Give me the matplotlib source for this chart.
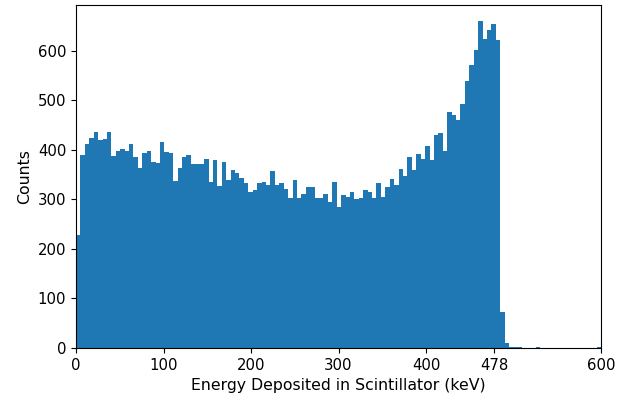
import numpy as np
import matplotlib
matplotlib.use("Agg")
import matplotlib.pyplot as plt

# counts per bin (120 bins from 0 to ~606 keV)
counts = [
    228, 389, 411, 423, 436, 420, 422, 436, 387, 398,
    401, 398, 411, 386, 364, 394, 398, 376, 374, 416,
    396, 393, 337, 364, 386, 389, 371, 371, 371, 382,
    335, 379, 326, 376, 339, 360, 354, 342, 333, 315,
    318, 332, 334, 328, 357, 328, 332, 320, 303, 338,
    303, 310, 325, 325, 303, 303, 310, 294, 334, 284,
    309, 305, 315, 300, 303, 318, 315, 303, 332, 305,
    325, 340, 328, 362, 347, 386, 360, 391, 382, 408,
    379, 430, 433, 398, 477, 470, 459, 493, 538, 570,
    602, 659, 624, 641, 654, 621, 73, 10, 3, 3,
    3, 0, 0, 0, 3, 0, 0, 0, 0, 0,
    0, 0, 0, 0, 0, 0, 0, 0, 2, 0,
]
e_max = 606.0
xtick_vals = [0, 100, 200, 300, 400, 478, 600]

edges = np.linspace(0, e_max, len(counts) + 1)
centers = 0.5 * (edges[:-1] + edges[1:])

fig = plt.figure(figsize=(6.17, 4.0), dpi=100)
ax = fig.add_axes([76 / 617, 52 / 400, 525 / 617, 343 / 400])
ax.hist(centers, bins=edges, weights=counts)
ax.set_xlim(0, 600)
ax.set_xticks(xtick_vals)
ax.tick_params(labelsize=10.7)
ax.set_xlabel("Energy Deposited in Scintillator (keV)", fontsize=11.3)
ax.set_ylabel("Counts", fontsize=11.3)

fig.savefig("out.png", dpi=100)
